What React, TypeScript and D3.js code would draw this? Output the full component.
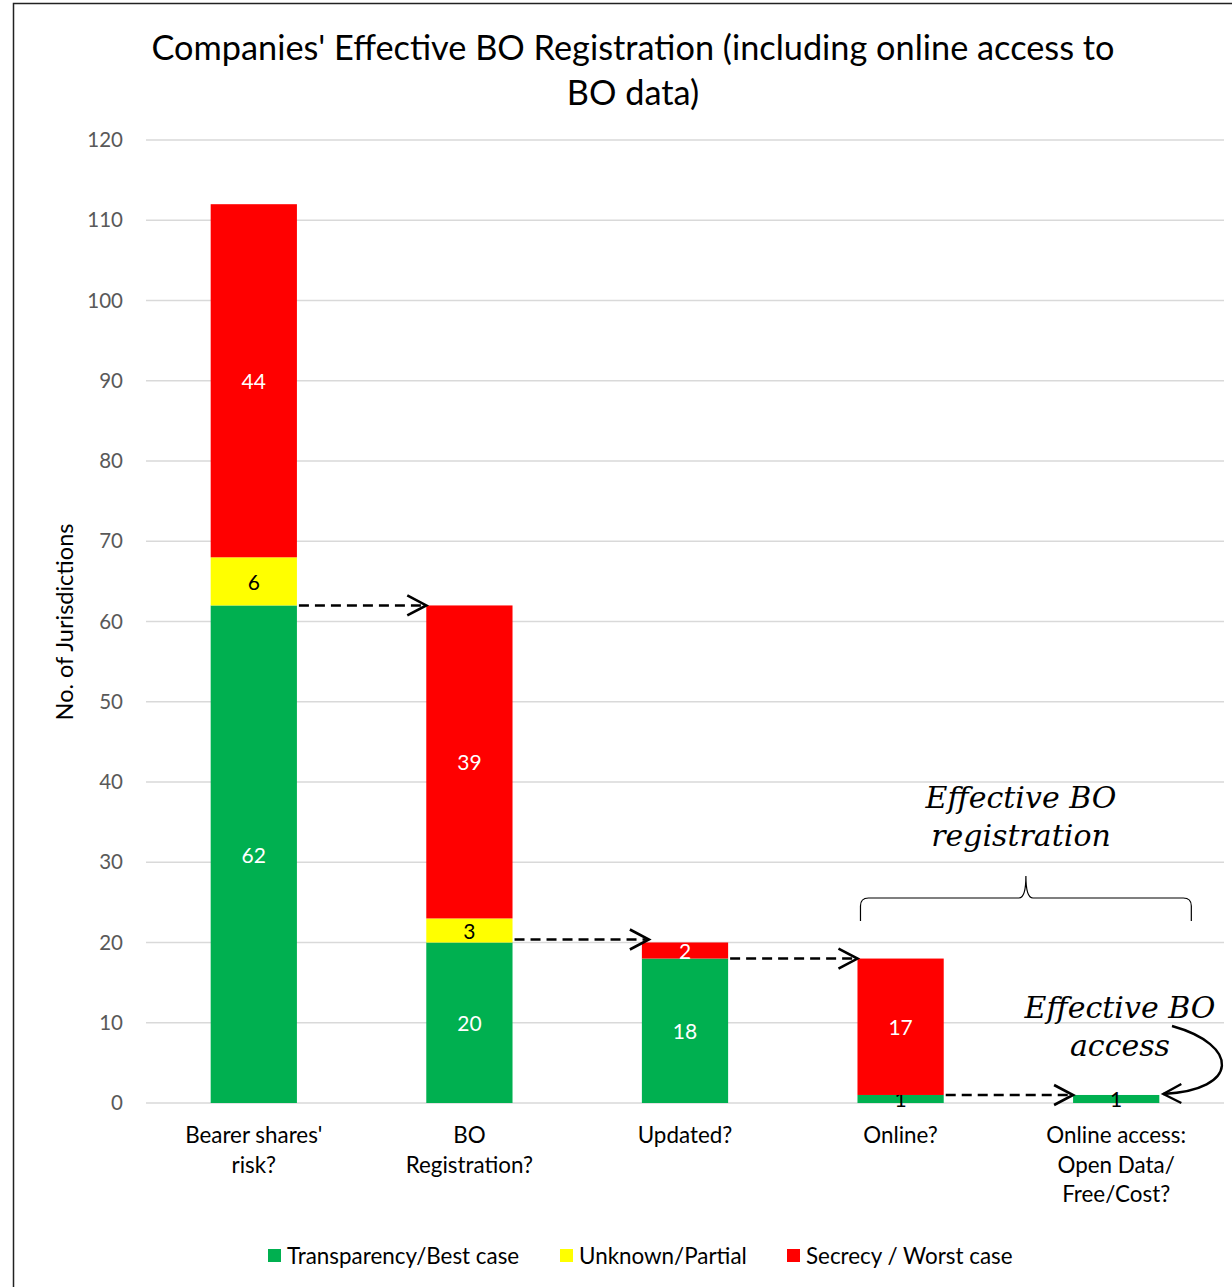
import React, { useEffect, useRef } from 'react';
import * as d3 from 'd3';

const categories = [
  ["Bearer shares'", 'risk?'],
  ['BO', 'Registration?'],
  ['Updated?'],
  ['Online?'],
  ['Online access:', 'Open Data/', 'Free/Cost?'],
];
const transparency = [62, 20, 18, 1, 1];
const unknown = [6, 3, 0, 0, 0];
const secrecy = [44, 39, 2, 17, 0];
const yTicks = [0, 10, 20, 30, 40, 50, 60, 70, 80, 90, 100, 110, 120];
const seriesNames = ['Transparency/Best case', 'Unknown/Partial', 'Secrecy / Worst case'];
const seriesColors = ['#00b050', '#ffff00', '#ff0000'];

const W = 1232;
const H = 1287;
const FONT = 'Lato, "Open Sans", sans-serif';
const HAND = '"DejaVu Serif", serif';

export default function App() {
  const svgRef = useRef<SVGSVGElement>(null);

  useEffect(() => {
    if (!svgRef.current) return;
    const svg = d3.select(svgRef.current);
    svg.selectAll('*').remove();

    const x = d3.scaleBand<number>()
      .domain(d3.range(categories.length))
      .range([146, 1224])
      .paddingInner(0.6)
      .paddingOuter(0.3);
    const y = d3.scaleLinear().domain([0, 120]).range([1103, 140]);

    // frame
    svg.append('rect')
      .attr('x', 13.5).attr('y', 3.5)
      .attr('width', W).attr('height', H)
      .attr('fill', 'white').attr('stroke', '#222').attr('stroke-width', 1.5);

    // title
    const title = svg.append('text')
      .attr('x', 633).attr('text-anchor', 'middle')
      .style('font-family', FONT).style('font-size', '34.3px').attr('fill', '#000');
    title.append('tspan').attr('x', 633).attr('y', 60).text("Companies' Effective BO Registration (including online access to");
    title.append('tspan').attr('x', 633).attr('y', 105).text('BO data)');

    // gridlines
    svg.append('g').selectAll('line').data(yTicks).join('line')
      .attr('x1', 146).attr('x2', 1224)
      .attr('y1', d => y(d)).attr('y2', d => y(d))
      .attr('stroke', '#d9d9d9').attr('stroke-width', 1.5);

    // y tick labels
    svg.append('g').selectAll('text').data(yTicks).join('text')
      .attr('x', 123).attr('y', d => y(d))
      .attr('dy', '0.35em').attr('text-anchor', 'end')
      .style('font-family', FONT).style('font-size', '20.5px').attr('fill', '#595959')
      .text(d => d);

    // y axis title
    svg.append('text')
      .attr('transform', `translate(73,622) rotate(-90)`)
      .attr('text-anchor', 'middle')
      .style('font-family', FONT).style('font-size', '23.5px').attr('fill', '#000')
      .text('No. of Jurisdictions');

    // stacked bars
    const rows = categories.map((_, i) => ({ i, t: transparency[i], u: unknown[i], s: secrecy[i] }));
    const stack = d3.stack<any>().keys(['t', 'u', 's'])(rows);
    stack.forEach((layer, k) => {
      const g = svg.append('g');
      g.selectAll('rect').data(layer).join('rect')
        .attr('x', d => x(d.data.i)!)
        .attr('width', x.bandwidth())
        .attr('y', d => y(d[1]))
        .attr('height', d => y(d[0]) - y(d[1]))
        .attr('fill', seriesColors[k]);
      g.selectAll('text').data(layer.filter(d => d[1] - d[0] > 0)).join('text')
        .attr('x', d => x(d.data.i)! + x.bandwidth() / 2)
        .attr('y', d => (y(d[0]) + y(d[1])) / 2 + 1)
        .attr('dy', '0.35em').attr('text-anchor', 'middle')
        .style('font-family', FONT).style('font-size', '21px')
        .attr('fill', d => (k === 1 || d[1] - d[0] < 2 ? '#000' : '#fff'))
        .text(d => d[1] - d[0]);
    });

    // category labels
    const cat = svg.append('g');
    categories.forEach((lines, i) => {
      const t = cat.append('text')
        .attr('text-anchor', 'middle')
        .style('font-family', FONT).style('font-size', '22.4px').attr('fill', '#000');
      lines.forEach((l, j) => {
        t.append('tspan').attr('x', x(i)! + x.bandwidth() / 2).attr('y', 1143 + j * 29.5).text(l);
      });
    });

    // dashed arrows between bars
    const arr = svg.append('g').attr('stroke', '#000').attr('fill', 'none').attr('stroke-width', 2.6);
    for (let i = 0; i < categories.length - 1; i++) {
      const yy = y(transparency[i]) + (i === 1 ? -3 : 0);
      const x0 = x(i)! + x.bandwidth();
      const x1 = x(i + 1)! + (i === 1 ? 7 : 0);
      arr.append('line')
        .attr('x1', x0 + 2).attr('x2', x1 - 3).attr('y1', yy).attr('y2', yy)
        .attr('stroke-dasharray', '10,6');
      arr.append('path')
        .attr('d', `M${x1 - 19},${yy - 10} L${x1},${yy} L${x1 - 19},${yy + 10}`);
    }

    // brace over the last two bars
    const bx0 = x(3)! + 3;
    const bx1 = x(4)! + x.bandwidth() + 32;
    const bm = (bx0 + bx1) / 2;
    svg.append('path')
      .attr('d', `M${bx0},921 L${bx0},906 Q${bx0},898 ${bx0 + 8},898 L${bm - 7},898 Q${bm},898 ${bm},876 Q${bm},898 ${bm + 7},898 L${bx1 - 8},898 Q${bx1},898 ${bx1},906 L${bx1},921`)
      .attr('fill', 'none').attr('stroke', '#000').attr('stroke-width', 1.2);

    // handwritten notes
    const note = (tx: number, ty: number, lines: string[]) => {
      const t = svg.append('text').attr('text-anchor', 'middle')
        .style('font-family', HAND).style('font-style', 'italic')
        .style('font-size', '30px').attr('fill', '#000');
      lines.forEach((l, j) => t.append('tspan').attr('x', tx).attr('y', ty + j * 38).text(l));
    };
    note(1021, 808, ['Effective BO', 'registration']);
    note(1120, 1018, ['Effective BO', 'access']);

    // curved arrow to last bar
    const tipX = x(4)! + x.bandwidth() + 4;
    const tipY = y(transparency[4]) - 1;
    svg.append('path')
      .attr('d', `M1172,1026 C1240,1045 1240,1090 ${tipX},${tipY}`)
      .attr('fill', 'none').attr('stroke', '#000').attr('stroke-width', 2.4);
    svg.append('path')
      .attr('d', `M${tipX + 18},${tipY - 10} L${tipX},${tipY} L${tipX + 18},${tipY + 9}`)
      .attr('fill', 'none').attr('stroke', '#000').attr('stroke-width', 2.4);

    // legend
    const legendX = [268, 560, 787];
    const lg = svg.append('g');
    seriesNames.forEach((name, k) => {
      lg.append('rect').attr('x', legendX[k]).attr('y', 1249).attr('width', 13).attr('height', 13)
        .attr('fill', seriesColors[k]);
      lg.append('text').attr('x', legendX[k] + 19).attr('y', 1256).attr('dy', '0.35em')
        .style('font-family', FONT).style('font-size', '22.4px').attr('fill', '#000')
        .text(name);
    });
  }, []);

  return (
    <div style={{ position: 'absolute', left: 0, top: 0, width: W, height: H, background: '#fff' }}>
      <svg ref={svgRef} width={W} height={H} style={{ display: 'block' }} />
    </div>
  );
}
